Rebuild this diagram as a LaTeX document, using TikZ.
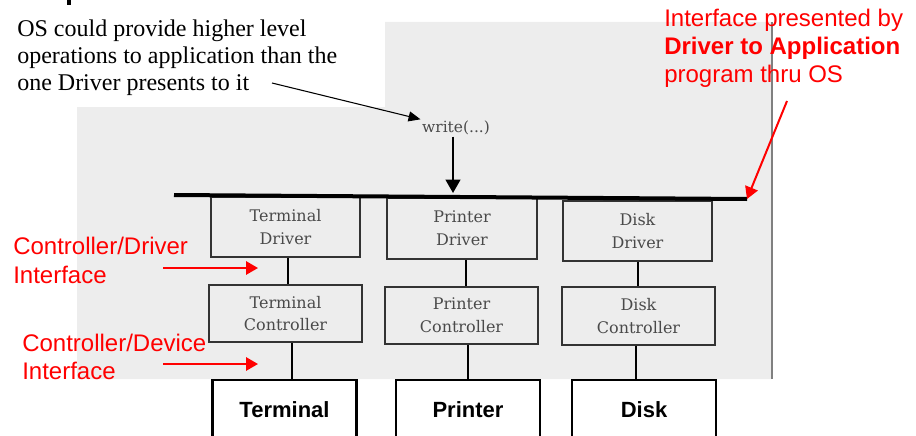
\documentclass[tikz,border=0pt]{standalone}
\usepackage{fontspec}
\setmainfont{Liberation Serif}
\newfontfamily\arialf{Liberation Sans}
\newfontfamily\bookf{DejaVu Serif}
\usetikzlibrary{arrows.meta,calc}
\definecolor{scan}{HTML}{EDEDED}
\definecolor{ink}{HTML}{333333}
\definecolor{bookink}{HTML}{4A4A4A}
\definecolor{redc}{HTML}{FF0000}
\begin{document}
\begin{tikzpicture}[x=0.75pt,y=-0.75pt,
  modbox/.style={draw=ink, line width=1.5pt, align=center, inner sep=0pt,
     font=\bookf\fontsize{12}{17}\selectfont, text=bookink},
  drvbox/.style={modbox, minimum width=112pt, minimum height=45.5pt},
  ctlbox/.style={modbox, minimum width=115pt, minimum height=43pt},
  devbox/.style={draw=black, line width=2pt, minimum width=108pt, minimum height=45pt,
     font=\arialf\bfseries\fontsize{16.5}{20}\selectfont},
  link/.style={draw=black, line width=1.5pt},
  redtxt/.style={text=redc, font=\arialf\fontsize{18}{21}\selectfont, align=left, inner sep=0pt},
  redarrow/.style={draw=redc, line width=1.5pt, -{Triangle[length=9pt,width=10pt]}},
  notetxt/.style={font=\fontsize{18}{20.25}\selectfont, align=left, inner sep=0pt}
]
\useasboundingbox (0,0) rectangle (916,435);
\clip (0,0) rectangle (916,435);
% scanned background
\fill[scan] (77,107) -- (385,107) -- (385,22) -- (772,22) -- (772,379) -- (77,379) -- cycle;
\draw[gray, line width=1pt] (772,22) -- (772,379);
% cropped title remnant
\fill[black] (67,0) rectangle (71,5);

% texts (base anchor = baseline of last line)
\node[notetxt, anchor=base west] (os) at (17,90) {OS could provide higher level\\operations to application than the\\one Driver presents to it};
\node[redtxt, anchor=base west] (iface) at (664,83) {Interface presented by\\\textbf{Driver to Application}\\program thru OS};
\node[redtxt, anchor=base west, font=\arialf\fontsize{18}{21.75}\selectfont] (cdi) at (13,283) {Controller/Driver\\Interface};
\node[redtxt, anchor=base west] (cdev) at (22,379) {Controller/Device\\Interface};

% write
\node[font=\bookf\fontsize{11.6}{14}\selectfont, text=bookink, inner sep=1pt] (write) at (456,128) {write(...)};

% bus
\coordinate (busL) at (174,195);
\coordinate (busR) at (747,199);

% driver / controller boxes
\node[drvbox] (tdrv) at (285.5,227) {Terminal\\Driver};
\node[drvbox] (pdrv) at (462,228.5) {Printer\\Driver};
\node[drvbox] (ddrv) at (637.5,231) {Disk\\Driver};
\node[ctlbox] (tctl) at (285.5,313.5) {Terminal\\Controller};
\node[ctlbox] (pctl) at (461.5,315.5) {Printer\\Controller};
\node[ctlbox] (dctl) at (638.5,316) {Disk\\Controller};

\draw[line width=3pt, black] (busL) -- (busR);

% devices
\node[devbox] (tdev) at (284.5,410) {Terminal};
\node[devbox] (pdev) at (468,410) {Printer};
\node[devbox] (ddev) at (644,410) {Disk};

% connectors
\draw[link] ([xshift=1.9pt]tdrv.south) -- ([xshift=1.9pt]tdrv.south |- tctl.north);
\draw[link] ([xshift=3pt]pdrv.south) -- ([xshift=3pt]pdrv.south |- pctl.north);
\draw[link] (ddrv.south) -- (ddrv.south |- dctl.north);
\draw[link] ([xshift=4.9pt]tctl.south) -- ([xshift=4.9pt]tctl.south |- tdev.north);
\draw[link] ([xshift=4.9pt]pctl.south) -- ([xshift=4.9pt]pctl.south |- pdev.north);
\draw[link] ([xshift=-1.9pt]dctl.south) -- ([xshift=-1.9pt]dctl.south |- ddev.north);

% arrows
\coordinate (wbus) at (453,193);
\draw[line width=1.5pt, -{Triangle[length=10pt,width=11pt]}] ([xshift=-2.25pt]write.south) -- (wbus);
\coordinate (osend) at (272,83);
\draw[line width=0.8pt, -{Triangle[length=9pt,width=7.5pt]}] (osend) -- (write.north west);
\coordinate (ifstart) at (787,101);
\draw[redarrow] (ifstart) -- (busR);
\coordinate (cdiS) at (163,268);
\coordinate (cdiE) at (258,268);
\draw[redarrow] (cdiS) -- (cdiE);
\coordinate (cdevS) at (163,364);
\coordinate (cdevE) at (258,364);
\draw[redarrow] (cdevS) -- (cdevE);
\end{tikzpicture}
\end{document}
